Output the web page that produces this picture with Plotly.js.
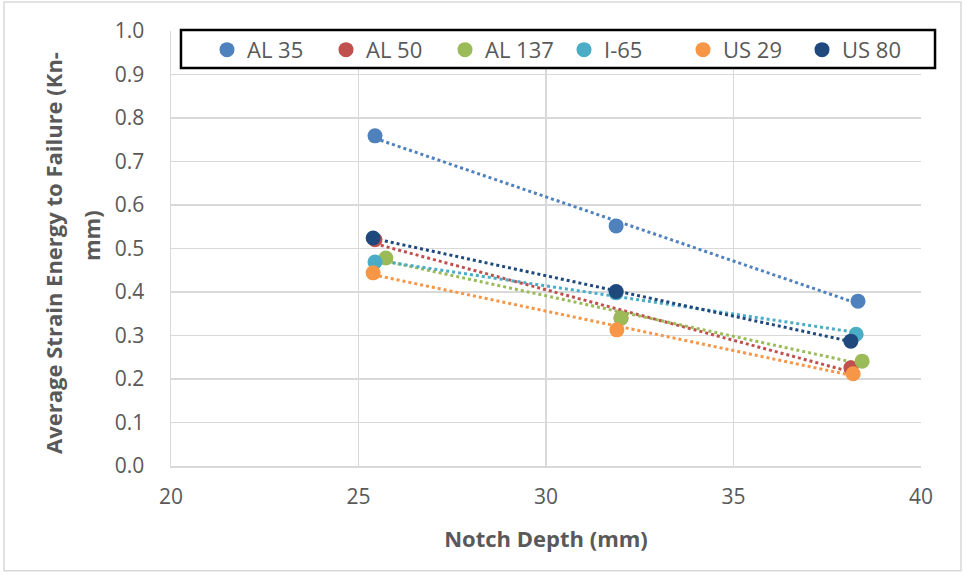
<!DOCTYPE html>
<html>
<head>
<meta charset="utf-8">
<script src="https://cdn.plot.ly/plotly-3.0.1.min.js"></script>
<style>
  html, body { margin: 0; padding: 0; background: #ffffff; }
  #chart { width: 966px; height: 575px; }
</style>
</head>
<body>
<div id="chart"></div>
<script>
// Series names and colours
const seriesNames = ["AL 35", "AL 50", "AL 137", "I-65", "US 29", "US 80"];
const seriesColors = ["#4F81BD", "#C0504D", "#9BBB59", "#4BACC6", "#F79646", "#1F497D"];

// Notch depth (mm) for each series
const depthAL35 = [25.44, 31.87, 38.32];
const depthAL50 = [25.44, 32.00, 38.13];
const depthAL137 = [25.73, 32.00, 38.43];
const depthI65 = [25.44, 31.87, 38.27];
const depthUS29 = [25.39, 31.89, 38.19];
const depthUS80 = [25.39, 31.87, 38.13];

// Average strain energy to failure (kN-mm)
const energyAL35 = [0.759, 0.552, 0.379];
const energyAL50 = [0.520, 0.340, 0.226];
const energyAL137 = [0.478, 0.340, 0.241];
const energyI65 = [0.469, 0.398, 0.303];
const energyUS29 = [0.444, 0.313, 0.212];
const energyUS80 = [0.524, 0.401, 0.287];

const xTickVals = [20, 25, 30, 35, 40];

// Axis title lines
const yTitleLine1 = "Average Strain Energy to Failure (Kn-";
const yTitleLine2 = "mm)";
const xTitle = "Notch Depth (mm)";

const depths = [depthAL35, depthAL50, depthAL137, depthI65, depthUS29, depthUS80];
const energies = [energyAL35, energyAL50, energyAL137, energyI65, energyUS29, energyUS80];

// Least-squares linear trendline spanning the series' depth range
function trend(xs, ys) {
  const n = xs.length;
  const mx = xs.reduce((a, b) => a + b, 0) / n;
  const my = ys.reduce((a, b) => a + b, 0) / n;
  let sxy = 0, sxx = 0;
  for (let i = 0; i < n; i++) {
    sxy += (xs[i] - mx) * (ys[i] - my);
    sxx += (xs[i] - mx) * (xs[i] - mx);
  }
  const m = sxy / sxx;
  const b = my - m * mx;
  const x0 = Math.min(...xs), x1 = Math.max(...xs);
  return { x: [x0, x1], y: [m * x0 + b, m * x1 + b] };
}

const traces = [];
seriesNames.forEach((name, i) => {
  const t = trend(depths[i], energies[i]);
  traces.push({
    x: t.x, y: t.y, type: "scatter", mode: "lines",
    line: { color: seriesColors[i], width: 3, dash: "dot" },
    showlegend: false, hoverinfo: "skip"
  });
});
seriesNames.forEach((name, i) => {
  traces.push({
    x: depths[i], y: energies[i], name: name, type: "scatter", mode: "markers",
    marker: { color: seriesColors[i], size: 15 }
  });
});

const font = "'Open Sans', 'Liberation Sans', Arial, sans-serif";
const gray = "#595959";

const layout = {
  width: 966, height: 575,
  margin: { l: 171, r: 45, t: 31, b: 109 },
  paper_bgcolor: "#ffffff", plot_bgcolor: "#ffffff",
  font: { family: font, color: gray, size: 21 },
  xaxis: {
    range: [20, 40], tickvals: xTickVals, ticks: "",
    showgrid: true, gridcolor: "#d9d9d9", gridwidth: 1.5,
    zeroline: false, showline: true, linecolor: "#d9d9d9", linewidth: 1.5,
    ticklabelstandoff: 11,
    tickfont: { family: font, size: 21, color: gray },
    title: { text: xTitle, standoff: 23,
             font: { family: font, size: 22, color: gray, weight: "bold" } }
  },
  yaxis: {
    range: [0, 1], dtick: 0.1, tickformat: ".1f", ticks: "",
    showgrid: true, gridcolor: "#d9d9d9", gridwidth: 1.5,
    zeroline: false, showline: true, linecolor: "#d9d9d9", linewidth: 1.5,
    ticklabelstandoff: 21,
    tickfont: { family: font, size: 21, color: gray }
  },
  legend: {
    orientation: "h", x: 0.048, y: 1.005, xanchor: "left", yanchor: "top",
    bgcolor: "rgba(0,0,0,0)", borderwidth: 0,
    font: { family: font, size: 22, color: gray },
    entrywidth: 74, itemwidth: 30
  },
  annotations: [
    { text: yTitleLine1, xref: "paper", yref: "paper", x: -0.1573, y: 0.49,
      xanchor: "center", yanchor: "middle", textangle: -90, showarrow: false,
      font: { family: font, size: 22, color: gray, weight: "bold" } },
    { text: yTitleLine2, xref: "paper", yref: "paper", x: -0.1067, y: 0.531,
      xanchor: "center", yanchor: "middle", textangle: -90, showarrow: false,
      font: { family: font, size: 22, color: gray, weight: "bold" } }
  ],
  shapes: [
    { // chart frame
      type: "rect", xref: "paper", yref: "paper", layer: "below",
      x0: -0.2227, x1: 1.0533, y0: -0.241, y1: 1.0667,
      line: { color: "#d9d9d9", width: 1.5 }, fillcolor: "rgba(0,0,0,0)" },
    { // legend box
      type: "rect", xref: "paper", yref: "paper", layer: "above",
      x0: 0.0133, x1: 1.0187, y0: 0.9149, y1: 1.0023,
      line: { color: "#000000", width: 2.5 }, fillcolor: "#ffffff" }
  ],
  showlegend: true
};

Plotly.newPlot("chart", traces, layout, { displayModeBar: false, staticPlot: true });
</script>
</body>
</html>
